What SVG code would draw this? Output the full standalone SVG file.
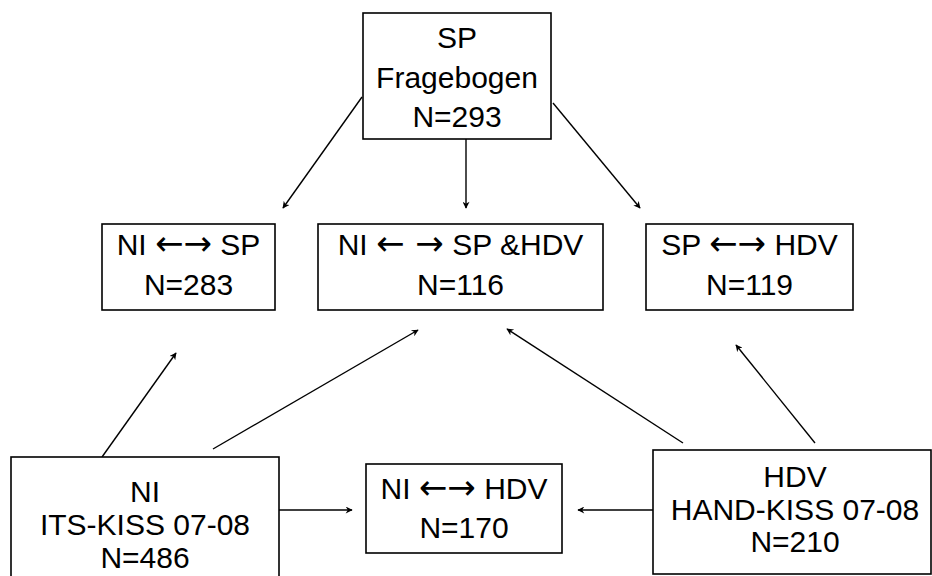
<svg xmlns="http://www.w3.org/2000/svg" width="932" height="576" viewBox="0 0 932 576">
<style>
.box{fill:#fff;stroke:#000;stroke-width:1.6}
.t{font-family:"Liberation Sans",Arial,sans-serif;font-size:30px;fill:#000;text-anchor:middle}
.a{font-family:"DejaVu Sans",sans-serif;font-size:34px}
.c{stroke:#000;stroke-width:1.4;fill:none;marker-end:url(#ah)}
</style>
<defs>
<marker id="ah" viewBox="0 0 10 10" refX="9" refY="5" markerWidth="9" markerHeight="7" markerUnits="userSpaceOnUse" orient="auto">
<path d="M0,0 L10,5 L0,10 L3,5 z" fill="#000"/>
</marker>
</defs>
<rect width="932" height="576" fill="#fff"/>
<g id="connectors">
<line class="c" x1="362" y1="97" x2="283" y2="208"/>
<line class="c" x1="466" y1="139" x2="466" y2="208"/>
<line class="c" x1="553" y1="103" x2="640" y2="208"/>
<line class="c" x1="102" y1="457" x2="176" y2="353"/>
<line class="c" x1="213" y1="449" x2="418" y2="330"/>
<line class="c" x1="683" y1="443" x2="507" y2="329"/>
<line class="c" x1="815" y1="443" x2="736" y2="345"/>
<line class="c" x1="279" y1="510" x2="352" y2="510"/>
<line class="c" x1="653" y1="510" x2="578" y2="510"/>
</g>
<g id="sp">
<rect class="box" x="363" y="13" width="188" height="126"/>
<text class="t" x="457" y="48">SP</text>
<text class="t" x="457" y="88">Fragebogen</text>
<text class="t" x="457" y="127">N=293</text>
</g>
<g id="ni-sp">
<rect class="box" x="102" y="224" width="173" height="86"/>
<text class="t" x="188.5" y="255">NI <tspan class="a">←→</tspan> SP</text>
<text class="t" x="188.5" y="295">N=283</text>
</g>
<g id="ni-sp-hdv">
<rect class="box" x="318" y="224" width="285" height="86"/>
<text class="t" x="460.5" y="255">NI <tspan class="a">← →</tspan> SP &amp;HDV</text>
<text class="t" x="460.5" y="295">N=116</text>
</g>
<g id="sp-hdv">
<rect class="box" x="646" y="224" width="207" height="86"/>
<text class="t" x="749.5" y="255">SP <tspan class="a">←→</tspan> HDV</text>
<text class="t" x="749.5" y="295">N=119</text>
</g>
<g id="ni">
<rect class="box" x="11" y="457" width="268" height="125"/>
<text class="t" x="145" y="502">NI</text>
<text class="t" x="145" y="535">ITS-KISS 07-08</text>
<text class="t" x="145" y="568">N=486</text>
</g>
<g id="ni-hdv">
<rect class="box" x="366" y="464" width="196" height="89"/>
<text class="t" x="464" y="499">NI <tspan class="a">←→</tspan> HDV</text>
<text class="t" x="464" y="538">N=170</text>
</g>
<g id="hdv">
<rect class="box" x="653" y="450" width="278" height="124"/>
<text class="t" x="795" y="487">HDV</text>
<text class="t" x="795" y="520">HAND-KISS 07-08</text>
<text class="t" x="795" y="552">N=210</text>
</g>
</svg>
